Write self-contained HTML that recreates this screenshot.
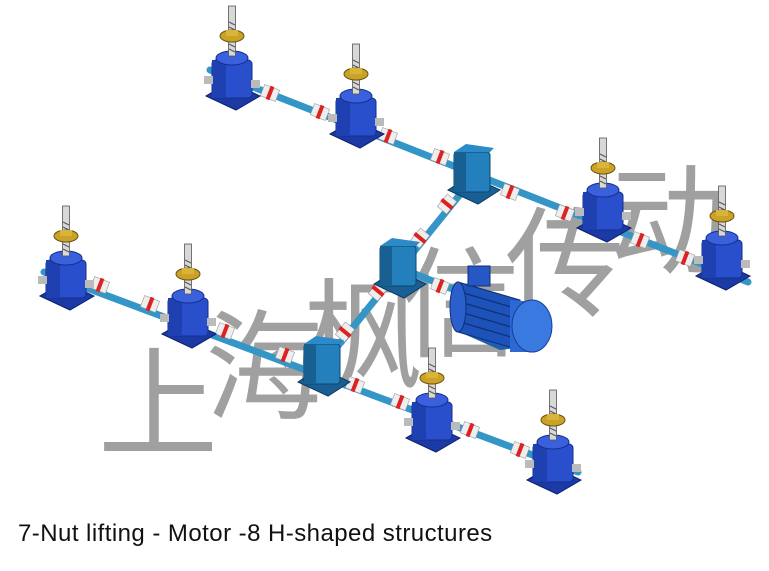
<!DOCTYPE html>
<html><head><meta charset="utf-8"><style>
html,body{margin:0;padding:0;background:#fff;}
body{width:769px;height:571px;overflow:hidden;position:relative;}
.cap{position:absolute;left:18px;top:520px;font:24px "Liberation Sans",sans-serif;color:#111;white-space:nowrap;letter-spacing:0.45px;}
</style></head><body>
<svg width="769" height="571" viewBox="0 0 769 571" xmlns="http://www.w3.org/2000/svg" style="position:absolute;left:0;top:0">
<defs>
<g id="jack">
  <polygon points="-26,14 4,28 28,14 -2,0" fill="#1c3aa6" stroke="#0d2170" stroke-width="1"/>
  <rect x="-20" y="-22" width="40" height="38" rx="4" fill="#2a4fcc" stroke="#142f8c"/>
  <rect x="-20" y="-22" width="14" height="38" fill="#1f40b0"/>
  <ellipse cx="0" cy="-24" rx="16" ry="7" fill="#3a60dd" stroke="#142f8c"/>
  <rect x="-28" y="-6" width="9" height="8" fill="#bbb"/>
  <rect x="19" y="-2" width="9" height="8" fill="#bbb"/>
  <rect x="-3.5" y="-76" width="7" height="50" fill="#d8d8d8" stroke="#555" stroke-width="0.8"/>
  <line x1="-3" y1="-60" x2="3" y2="-57" stroke="#555"/><line x1="-3" y1="-55" x2="3" y2="-52" stroke="#555"/><line x1="-3" y1="-38" x2="3" y2="-35" stroke="#555"/><line x1="-3" y1="-33" x2="3" y2="-30" stroke="#555"/>
  <ellipse cx="0" cy="-46" rx="12" ry="6" fill="#c9a227" stroke="#6e5510"/>
  <rect x="-6" y="-52" width="12" height="6" fill="#d8b43a"/>
</g>
<g id="gear">
  <polygon points="-24,16 6,30 28,16 -2,2" fill="#1a5f94" stroke="#0d3a60"/>
  <rect x="-18" y="-22" width="36" height="40" rx="3" fill="#2380bc" stroke="#0e466f"/>
  <rect x="-18" y="-22" width="12" height="40" fill="#185f92"/>
  <polygon points="-18,-22 -6,-30 22,-26 18,-22" fill="#2c8ac8"/>
</g>
<g id="cp">
  <rect x="-8" y="-6" width="16" height="12" fill="#eee" stroke="#999" stroke-width="0.6"/>
  <rect x="-2" y="-7" width="4" height="14" fill="#d22"/>
</g>
</defs>

<g font-family="'Noto Sans CJK SC',sans-serif" font-size="120" fill="#a0a0a0">
<text x="98" y="447">上</text>
<text x="205" y="410">海</text>
<text x="303" y="379">枫</text>
<text x="400" y="347">信</text>
<text x="505" y="307">传</text>
<text x="608" y="264">动</text>
</g>

<g stroke="#3496c6" stroke-width="7" stroke-linecap="round">
<line x1="210" y1="70" x2="748" y2="282"/>
<line x1="44" y1="272" x2="578" y2="472"/>
<line x1="470" y1="182" x2="320" y2="368"/>
<line x1="400" y1="268" x2="460" y2="292"/>
</g>
<use href="#cp" transform="translate(270,93) rotate(21)"/>
<use href="#cp" transform="translate(320,112) rotate(21)"/>
<use href="#cp" transform="translate(388,136) rotate(21)"/>
<use href="#cp" transform="translate(440,157) rotate(21)"/>
<use href="#cp" transform="translate(510,192) rotate(21)"/>
<use href="#cp" transform="translate(565,213) rotate(21)"/>
<use href="#cp" transform="translate(640,240) rotate(21)"/>
<use href="#cp" transform="translate(685,258) rotate(21)"/>
<use href="#cp" transform="translate(100,285) rotate(21)"/>
<use href="#cp" transform="translate(150,304) rotate(21)"/>
<use href="#cp" transform="translate(225,331) rotate(21)"/>
<use href="#cp" transform="translate(285,355) rotate(21)"/>
<use href="#cp" transform="translate(355,385) rotate(21)"/>
<use href="#cp" transform="translate(400,402) rotate(21)"/>
<use href="#cp" transform="translate(470,430) rotate(21)"/>
<use href="#cp" transform="translate(520,450) rotate(21)"/>
<use href="#cp" transform="translate(447,204) rotate(-51)"/>
<use href="#cp" transform="translate(420,238) rotate(-51)"/>
<use href="#cp" transform="translate(378,291) rotate(-51)"/>
<use href="#cp" transform="translate(345,332) rotate(-51)"/>
<use href="#cp" transform="translate(440,286) rotate(21)"/>

<g>
<polygon points="455,330 500,350 540,345 495,325" fill="#1c5fb0"/>
<path d="M458,282 L520,300 L520,350 L458,332 Z" fill="#1d52b8" stroke="#0f2f7a"/>
<g stroke="#0f2f7a" stroke-width="1.2">
<line x1="460" y1="292" x2="518" y2="309"/><line x1="460" y1="302" x2="518" y2="319"/><line x1="460" y1="312" x2="518" y2="329"/><line x1="460" y1="322" x2="518" y2="339"/>
</g>
<rect x="468" y="266" width="22" height="20" fill="#2657c4" stroke="#0f2f7a"/>
<ellipse cx="458" cy="307" rx="8" ry="25" fill="#2a5fcc" stroke="#0f2f7a"/>
<path d="M510,300 L535,302 L535,352 L510,352 Z" fill="#2e68d4"/>
<ellipse cx="532" cy="326" rx="20" ry="26" fill="#3a7ae0" stroke="#163f96"/>
</g>

<use href="#gear" x="472" y="174"/>
<use href="#gear" x="398" y="268"/>
<use href="#gear" x="322" y="366"/>

<use href="#jack" x="232" y="82"/>
<use href="#jack" x="356" y="120"/>
<use href="#jack" x="603" y="214"/>
<use href="#jack" x="722" y="262"/>
<use href="#jack" x="66" y="282"/>
<use href="#jack" x="188" y="320"/>
<use href="#jack" x="432" y="424"/>
<use href="#jack" x="553" y="466"/>
</svg>
<div class="cap">7-Nut lifting - Motor -8 H-shaped structures</div>
</body></html>
